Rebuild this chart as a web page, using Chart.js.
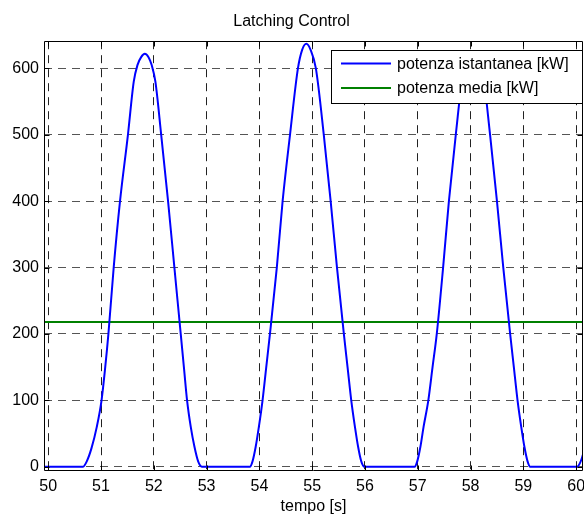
<!DOCTYPE html>
<html>
<head>
<meta charset="utf-8">
<script src="https://cdn.jsdelivr.net/npm/chart.js@4/dist/chart.umd.min.js"></script>
<style>
  html, body { margin: 0; padding: 0; background: #fff; }
</style>
</head>
<body>
<canvas id="latching" width="584" height="516"></canvas>
<script>
// tempo [s] and potenza istantanea [kW]
const time = [
    49.92, 50.66, 50.73, 50.82, 50.92, 51.01, 51.08, 51.14, 51.24, 51.36, 51.51, 51.62, 51.69, 51.76,
    51.83, 51.90, 51.96, 52.03, 52.14, 52.27, 52.39, 52.51, 52.57, 52.63, 52.70, 52.77, 52.84, 52.91,
    53.82, 53.87, 53.93, 53.99, 54.06, 54.13, 54.20, 54.33, 54.44, 54.58, 54.73, 54.81, 54.89,
    54.97, 55.07, 55.22, 55.35, 55.47, 55.60, 55.67, 55.74, 55.81, 55.87, 55.93, 55.99,
    56.94, 56.99, 57.05, 57.11, 57.20, 57.28, 57.36, 57.48, 57.59, 57.72, 57.87, 57.95, 58.04,
    58.13, 58.22, 58.37, 58.50, 58.62, 58.75, 58.82, 58.89, 58.96, 59.02, 59.08, 59.13,
    60.02, 60.07, 60.11, 60.20
];
const power = [
    0, 0, 8, 28, 60, 100, 150, 200, 300, 400, 500, 580, 605, 617,
    622, 617, 605, 580, 500, 400, 300, 200, 150, 100, 60, 30, 8, 0,
    0, 8, 30, 60, 100, 150, 200, 300, 400, 500, 600, 628, 637,
    628, 600, 500, 400, 300, 200, 150, 100, 60, 30, 8, 0,
    0, 8, 30, 60, 100, 150, 200, 300, 400, 500, 600, 614, 620,
    614, 600, 500, 400, 300, 200, 150, 100, 60, 30, 8, 0,
    0, 5, 13, 40
];

// potenza media [kW]
const meanTime = [49.9, 60.2];
const meanPower = [218, 218];

const xTicks = [50, 51, 52, 53, 54, 55, 56, 57, 58, 59, 60];
const yTicks = [0, 100, 200, 300, 400, 500, 600];

Chart.defaults.font.family = '"Liberation Sans", Arial, Helvetica, sans-serif';
Chart.defaults.font.size = 16;
Chart.defaults.color = '#000';

// axes box with small inward ticks, like matlab
const frame = {
    id: 'frame',
    afterDatasetsDraw(chart) {
        const {ctx, chartArea: a, scales} = chart;
        ctx.save();
        ctx.strokeStyle = '#000';
        ctx.lineWidth = 1;
        ctx.beginPath();
        const L = Math.round(a.left) + 0.5, R = Math.round(a.right) - 0.5;
        const T = Math.round(a.top) + 0.5, B = Math.round(a.bottom) - 0.5;
        ctx.rect(L, T, R - L, B - T);
        xTicks.forEach(v => {
            const px = Math.round(scales.x.getPixelForValue(v)) + 0.5;
            ctx.moveTo(px, B); ctx.lineTo(px, B - 5);
            ctx.moveTo(px, T); ctx.lineTo(px, T + 5);
        });
        yTicks.forEach(v => {
            const py = Math.round(scales.y.getPixelForValue(v)) + 0.5;
            ctx.moveTo(L, py); ctx.lineTo(L + 5, py);
            ctx.moveTo(R, py); ctx.lineTo(R - 5, py);
        });
        ctx.stroke();
        ctx.restore();
    }
};

// legend box in the top right corner of the axes
const boxLegend = {
    id: 'boxLegend',
    afterDraw(chart) {
        const {ctx} = chart;
        const x = 331, y = 50, w = 251, h = 53;
        ctx.save();
        ctx.fillStyle = '#fff';
        ctx.fillRect(x, y, w, h);
        ctx.strokeStyle = '#000';
        ctx.lineWidth = 1;
        ctx.strokeRect(x + 0.5, y + 0.5, w, h);
        ctx.font = '16px "Liberation Sans", Arial, Helvetica, sans-serif';
        ctx.textBaseline = 'middle';
        ctx.textAlign = 'left';
        chart.data.datasets.forEach((ds, i) => {
            const ly = y + 13.5 + i * 24.4;
            ctx.strokeStyle = ds.borderColor;
            ctx.lineWidth = 2;
            ctx.beginPath();
            ctx.moveTo(x + 10, ly);
            ctx.lineTo(x + 60, ly);
            ctx.stroke();
            ctx.fillStyle = '#000';
            ctx.fillText(ds.label, x + 66, ly + 1);
        });
        ctx.restore();
    }
};

new Chart(document.getElementById('latching'), {
    type: 'line',
    data: {
        datasets: [{
            label: 'potenza istantanea [kW]',
            data: time.map((t, i) => ({x: t, y: power[i]})),
            borderColor: '#0000ff',
            borderWidth: 2,
            pointRadius: 0,
            cubicInterpolationMode: 'monotone'
        }, {
            label: 'potenza media [kW]',
            data: meanTime.map((t, i) => ({x: t, y: meanPower[i]})),
            borderColor: '#008000',
            borderWidth: 2,
            pointRadius: 0
        }]
    },
    options: {
        responsive: false,
        devicePixelRatio: 1,
        animation: false,
        layout: {padding: {right: 1}},
        scales: {
            x: {
                type: 'linear',
                min: 49.92,
                max: 60.13,
                afterBuildTicks: s => { s.ticks = xTicks.map(v => ({value: v})); },
                afterFit: s => { s.height = 45; s.paddingLeft = 0; s.paddingRight = 0; },
                grid: {color: '#222', lineWidth: 1, drawTicks: false},
                border: {display: false, dash: [8, 6]},
                ticks: {padding: 6, maxRotation: 0, autoSkip: false},
                title: {display: true, text: 'tempo [s]', padding: {top: 0, bottom: 0}}
            },
            y: {
                min: -6.5,
                max: 641,
                afterBuildTicks: s => { s.ticks = yTicks.map(v => ({value: v})); },
                afterFit: s => { s.width = 44; },
                grid: {color: '#555', lineWidth: 1, drawTicks: false},
                border: {display: false, dash: [8, 6]},
                ticks: {padding: 5}
            }
        },
        plugins: {
            legend: {display: false},
            tooltip: {enabled: false},
            title: {
                display: true,
                text: 'Latching Control',
                font: {size: 16, weight: 'normal'},
                padding: {top: 12, bottom: 10}
            }
        }
    },
    plugins: [frame, boxLegend]
});
</script>
</body>
</html>
